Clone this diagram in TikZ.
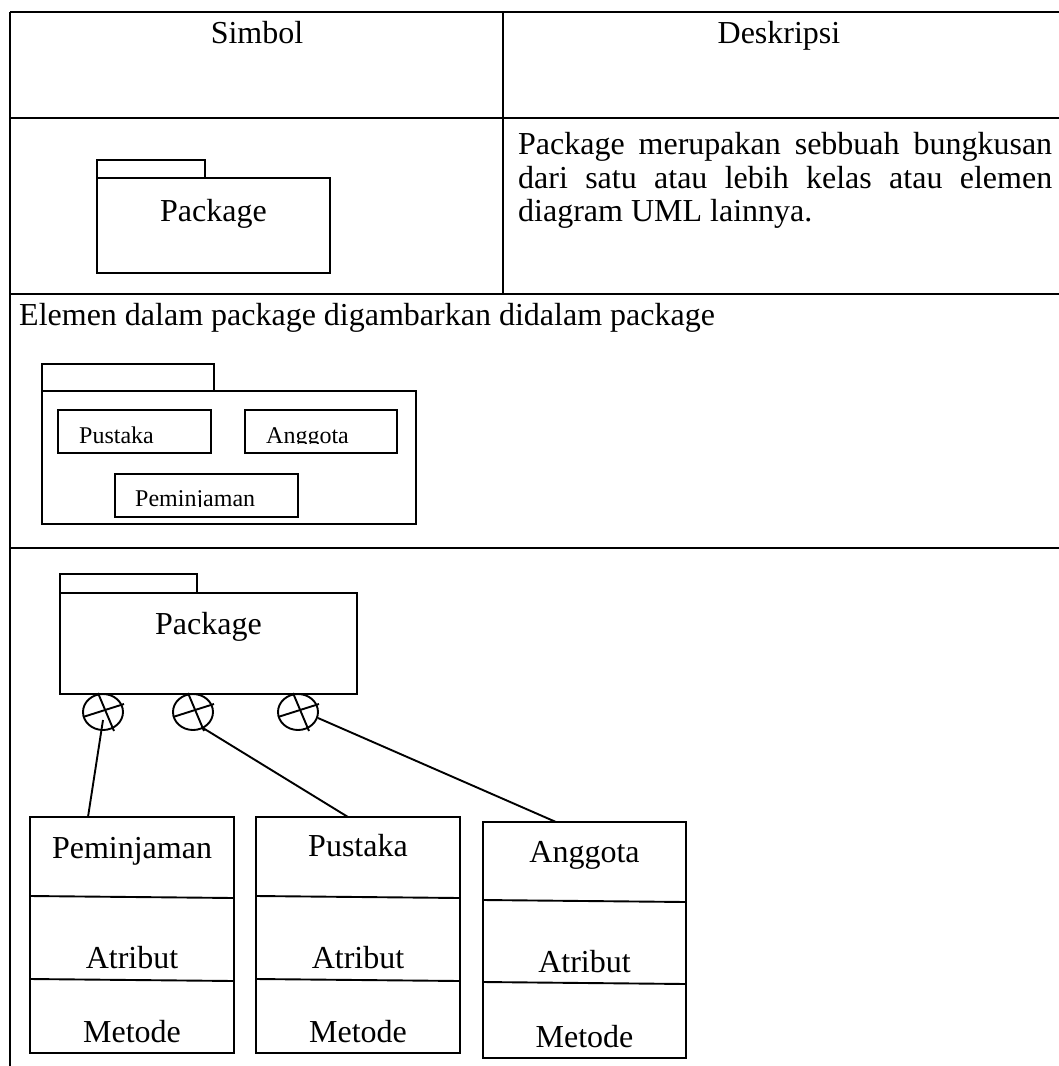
\documentclass[tikz,border=0pt]{standalone}
\usepackage{fontspec}
\setmainfont{Liberation Serif}
\usetikzlibrary{shapes.geometric}
\begin{document}
\begin{tikzpicture}[x=1pt,y=-1pt,
  tbl/.style={line width=2.9pt},
  shp/.style={draw, line width=1.9pt, inner sep=0pt, outer sep=0pt, anchor=north west},
  ln/.style={line width=1.9pt},
  big/.style={font=\fontsize{32}{36}\selectfont, inner sep=0pt, anchor=base},
  bigw/.style={font=\fontsize{32}{36}\selectfont, inner sep=0pt, anchor=base west},
  small/.style={font=\fontsize{24}{28}\selectfont, inner sep=0pt, anchor=base west},
  port/.style={draw, ellipse, line width=1.9pt, minimum width=40pt, minimum height=36pt, inner sep=0pt}]
\useasboundingbox (0,0) rectangle (1059,1066);
\fill[white] (0,0) rectangle (1059,1066);

% table grid
\draw[tbl] (10,12) -- (1065,12);
\draw[tbl] (10,118) -- (1065,118);
\draw[tbl] (10,294) -- (1065,294);
\draw[tbl] (10,548) -- (1065,548);
\draw[tbl] (10,12) -- (10,1070);
\draw[tbl] (503,12) -- (503,294);

% header
\node[big] (hsim) at (257,43) {Simbol};
\node[big] (hdes) at (779,43) {Deskripsi};

% row 2: package symbol
\node[shp, minimum width=108pt, minimum height=18pt] (tab1) at (97,160) {};
\node[shp, minimum width=233pt, minimum height=95pt] (pkg1) at (97,178) {};
\node[big] (pkg1t) at (213.5,221) {Package};

% description
\node[bigw] (d1) at (518,154) {\makebox[534pt][s]{Package merupakan sebbuah bungkusan}};
\node[bigw] (d2) at (518,188) {\makebox[534pt][s]{dari satu atau lebih kelas atau elemen}};
\node[bigw] (d3) at (518,221) {diagram UML lainnya.};

% row 3
\node[bigw] (el) at (19,325) {Elemen dalam package digambarkan didalam package};
\node[shp, minimum width=172pt, minimum height=27pt] (tab2) at (42,364) {};
\node[shp, minimum width=374pt, minimum height=133pt] (pkg2) at (42,391) {};
\node[shp, minimum width=153pt, minimum height=43pt] (bpus) at (58,410) {};
\node[shp, minimum width=152pt, minimum height=43pt] (bang) at (245,410) {};
\node[shp, minimum width=183pt, minimum height=43pt] (bpem) at (115,474) {};
\begin{scope}
\clip (60,412) rectangle (209,443.5);
\node[small] (tpus) at (79,443) {Pustaka};
\end{scope}
\begin{scope}
\clip (247,412) rectangle (395,443.5);
\node[small] (tang) at (266,443) {Anggota};
\end{scope}
\begin{scope}
\clip (117,476) rectangle (296,506.5);
\node[small] (tpem) at (135,506) {Peminjaman};
\end{scope}

% row 4
\node[shp, minimum width=137pt, minimum height=19pt] (tab3) at (60,574) {};
\node[shp, minimum width=297pt, minimum height=101pt] (pkg3) at (60,593) {};
\node[big] (pkg3t) at (208.5,634) {Package};

\node[port] (c1) at (103,712) {};
\node[port] (c2) at (193,712) {};
\node[port] (c3) at (298,712) {};
\foreach \c in {c1,c2,c3}{
  \draw[ln] ([shift={(-20,5)}]\c.center) -- ([shift={(21,-8)}]\c.center);
  \draw[ln] ([shift={(-5,-19)}]\c.center) -- ([shift={(11,19)}]\c.center);
}

% classes
\node[shp, minimum width=204pt, minimum height=236pt] (kpem) at (30,817) {};
\node[shp, minimum width=204pt, minimum height=236pt] (kpus) at (256,817) {};
\node[shp, minimum width=203pt, minimum height=236pt] (kang) at (483,822) {};
\draw[ln] (30,896) -- (234,898);
\draw[ln] (30,979) -- (234,981);
\draw[ln] (256,896) -- (460,898);
\draw[ln] (256,979) -- (460,981);
\draw[ln] (483,900) -- (686,902);
\draw[ln] (483,982) -- (686,984);

\node[big] (n1) at (132,858) {Peminjaman};
\node[big] (a1) at (132,968) {Atribut};
\node[big] (m1) at (132,1042) {Metode};
\node[big] (n2) at (358,856) {Pustaka};
\node[big] (a2) at (358,968) {Atribut};
\node[big] (m2) at (358,1042) {Metode};
\node[big] (n3) at (584.5,862) {Anggota};
\node[big] (a3) at (584.5,972) {Atribut};
\node[big] (m3) at (584.5,1047) {Metode};

% connectors
\coordinate (e1) at (88,817);
\coordinate (e2) at (348,817);
\coordinate (e3) at (556,822);
\draw[ln] ([shift={(0,8)}]c1.center) -- (e1);
\draw[ln] ([shift={(10,16)}]c2.center) -- (e2);
\draw[ln] ([shift={(20,6)}]c3.center) -- (e3);
\end{tikzpicture}
\end{document}
